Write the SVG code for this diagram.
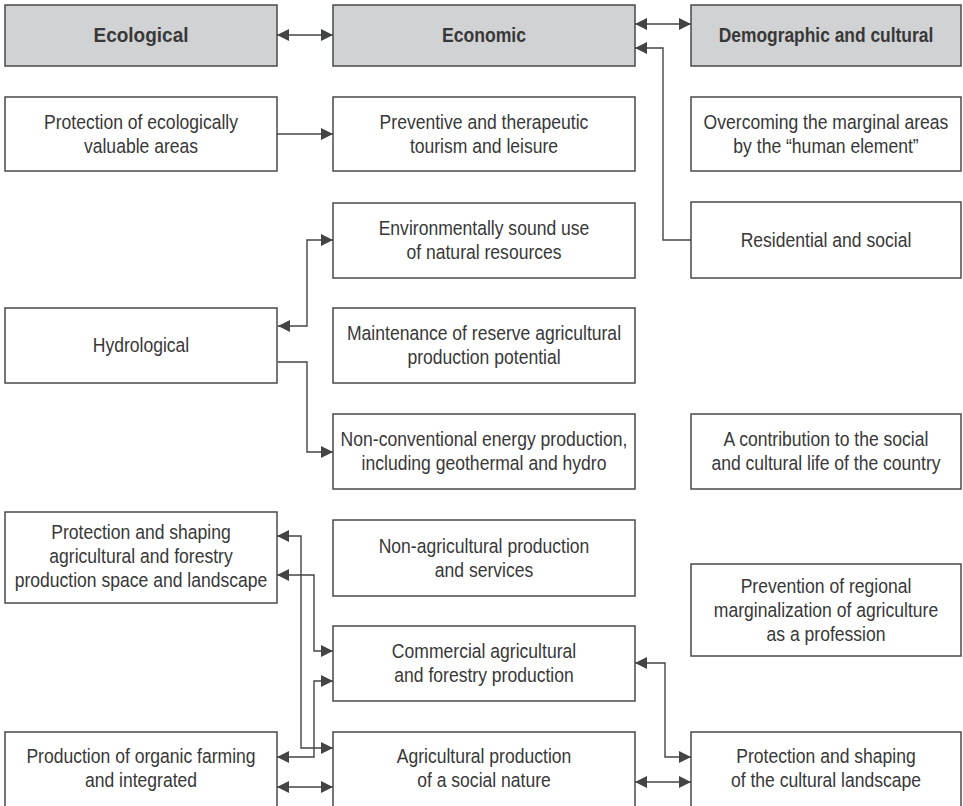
<svg xmlns="http://www.w3.org/2000/svg" width="963" height="806" viewBox="0 0 963 806">
<style>
.box{fill:#ffffff;stroke:#4a4a4a;stroke-width:1.5}
.hdr{fill:#d1d2d4;stroke:#4a4a4a;stroke-width:1.5}
text{font-family:"Liberation Sans",Arial,sans-serif;font-size:19.5px;fill:#383838;text-anchor:middle}
.b{font-weight:bold;font-size:20px}
.c{fill:none;stroke:#444444;stroke-width:1.4}
</style>
<defs>
<marker id="ah" markerUnits="userSpaceOnUse" markerWidth="12" markerHeight="12" refX="12" refY="6" orient="auto-start-reverse" viewBox="0 0 12 12">
<path d="M0,0 L12,6 L0,12 z" fill="#444444"/>
</marker>
</defs>
<rect width="963" height="806" fill="#ffffff"/>

<g id="connectors">
<path class="c" d="M277,35 H333" marker-start="url(#ah)" marker-end="url(#ah)"/>
<path class="c" d="M635,24 H691" marker-start="url(#ah)" marker-end="url(#ah)"/>
<path class="c" d="M691,240 H663 V48 H635" marker-end="url(#ah)"/>
<path class="c" d="M277,134 H333" marker-end="url(#ah)"/>
<path class="c" d="M278,326 H307 V240 H333" marker-start="url(#ah)" marker-end="url(#ah)"/>
<path class="c" d="M278,362 H307 V452 H333" marker-end="url(#ah)"/>
<path class="c" d="M277,536 H301 V748 H333" marker-start="url(#ah)" marker-end="url(#ah)"/>
<path class="c" d="M277,575 H314 V651 H333" marker-start="url(#ah)" marker-end="url(#ah)"/>
<path class="c" d="M277,757 H314 V681 H333" marker-start="url(#ah)" marker-end="url(#ah)"/>
<path class="c" d="M277,787 H333" marker-start="url(#ah)" marker-end="url(#ah)"/>
<path class="c" d="M635,663 H665 V757 H691" marker-start="url(#ah)" marker-end="url(#ah)"/>
<path class="c" d="M635,782 H691" marker-start="url(#ah)" marker-end="url(#ah)"/>
</g>

<g id="h-ecological"><rect class="hdr" x="5" y="5" width="272" height="61"/><g transform="translate(141 0) scale(0.95 1)"><text class="b" x="0" y="42">Ecological</text></g></g>
<g id="h-economic"><rect class="hdr" x="333" y="5" width="302" height="61"/><g transform="translate(484 0) scale(0.88 1)"><text class="b" x="0" y="42">Economic</text></g></g>
<g id="h-demographic"><rect class="hdr" x="691" y="5" width="270" height="61"/><g transform="translate(826 0) scale(0.87 1)"><text class="b" x="0" y="42">Demographic and cultural</text></g></g>

<g id="n-protection-eco"><rect class="box" x="5" y="97" width="272" height="74"/><g transform="translate(141 0) scale(0.9 1)"><text x="0" y="129">Protection of ecologically</text><text x="0" y="153">valuable areas</text></g></g>
<g id="n-preventive"><rect class="box" x="333" y="97" width="302" height="74"/><g transform="translate(484 0) scale(0.9 1)"><text x="0" y="129">Preventive and therapeutic</text><text x="0" y="153">tourism and leisure</text></g></g>
<g id="n-overcoming"><rect class="box" x="691" y="97" width="270" height="74"/><g transform="translate(826 0) scale(0.9 1)"><text x="0" y="129">Overcoming the marginal areas</text><text x="0" y="153">by the “human element”</text></g></g>

<g id="n-environmental"><rect class="box" x="333" y="203" width="302" height="75"/><g transform="translate(484 0) scale(0.9 1)"><text x="0" y="235.5">Environmentally sound use</text><text x="0" y="259.5">of natural resources</text></g></g>
<g id="n-residential"><rect class="box" x="691" y="202" width="270" height="76"/><g transform="translate(826 0) scale(0.9 1)"><text x="0" y="247">Residential and social</text></g></g>

<g id="n-hydrological"><rect class="box" x="5" y="308" width="272" height="75"/><g transform="translate(141 0) scale(0.9 1)"><text x="0" y="352.5">Hydrological</text></g></g>
<g id="n-maintenance"><rect class="box" x="333" y="308" width="302" height="75"/><g transform="translate(484 0) scale(0.9 1)"><text x="0" y="340.5">Maintenance of reserve agricultural</text><text x="0" y="364.5">production potential</text></g></g>

<g id="n-nonconventional"><rect class="box" x="333" y="414" width="302" height="75"/><g transform="translate(484 0) scale(0.9 1)"><text x="0" y="446.5">Non-conventional energy production,</text><text x="0" y="470.5">including geothermal and hydro</text></g></g>
<g id="n-contribution"><rect class="box" x="691" y="414" width="270" height="75"/><g transform="translate(826 0) scale(0.9 1)"><text x="0" y="446.5">A contribution to the social</text><text x="0" y="470.5">and cultural life of the country</text></g></g>

<g id="n-protection-shaping"><rect class="box" x="5" y="512" width="272" height="91"/><g transform="translate(141 0) scale(0.9 1)"><text x="0" y="539">Protection and shaping</text><text x="0" y="563">agricultural and forestry</text><text x="0" y="587">production space and landscape</text></g></g>
<g id="n-nonagricultural"><rect class="box" x="333" y="520" width="302" height="76"/><g transform="translate(484 0) scale(0.9 1)"><text x="0" y="553">Non-agricultural production</text><text x="0" y="577">and services</text></g></g>
<g id="n-prevention"><rect class="box" x="691" y="564" width="270" height="92"/><g transform="translate(826 0) scale(0.9 1)"><text x="0" y="593">Prevention of regional</text><text x="0" y="617">marginalization of agriculture</text><text x="0" y="641">as a profession</text></g></g>

<g id="n-commercial"><rect class="box" x="333" y="626" width="302" height="75"/><g transform="translate(484 0) scale(0.9 1)"><text x="0" y="658.5">Commercial agricultural</text><text x="0" y="682.5">and forestry production</text></g></g>

<g id="n-organic"><rect class="box" x="5" y="732" width="272" height="78"/><g transform="translate(141 0) scale(0.9 1)"><text x="0" y="763">Production of organic farming</text><text x="0" y="787">and integrated</text></g></g>
<g id="n-agri-social"><rect class="box" x="333" y="732" width="302" height="78"/><g transform="translate(484 0) scale(0.9 1)"><text x="0" y="763">Agricultural production</text><text x="0" y="787">of a social nature</text></g></g>
<g id="n-cultural-landscape"><rect class="box" x="691" y="732" width="270" height="78"/><g transform="translate(826 0) scale(0.9 1)"><text x="0" y="763">Protection and shaping</text><text x="0" y="787">of the cultural landscape</text></g></g>
</svg>
